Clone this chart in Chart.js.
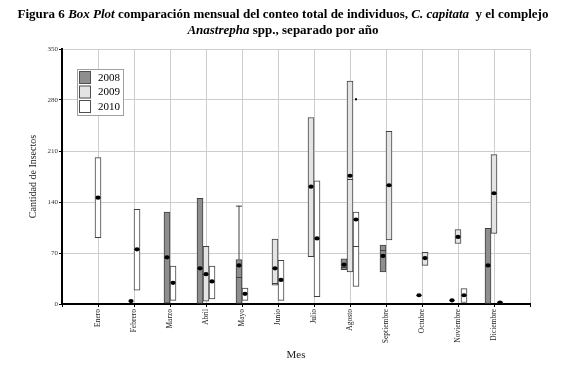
<!DOCTYPE html>
<html>
<head>
<meta charset="utf-8">
<script src="https://cdn.jsdelivr.net/npm/chart.js@4/dist/chart.umd.min.js"></script>
<style>
  html, body { margin: 0; padding: 0; background: #fff; }
  #wrap { position: relative; width: 566px; height: 370px; }
  #chart { position: absolute; left: 0; top: 0; }
  #title {
    position: absolute; top: 6px; left: 0; width: 566px;
    text-align: center; color: #000;
    font: bold 13px "Liberation Serif", "Times New Roman", serif;
    line-height: 16px;
  }
</style>
</head>
<body>
<div id="wrap">
  <canvas id="chart" width="566" height="370"></canvas>
  <div id="title">Figura 6 <i>Box Plot</i> comparación mensual del conteo total de individuos, <i>C. capitata</i>&nbsp; y el complejo<br><i>Anastrepha</i> spp., separado por año</div>
</div>
<script>
const months = ['Enero', 'Febrero', 'Marzo', 'Abril', 'Mayo', 'Junio', 'Julio',
                'Agosto', 'Septiembre', 'Octubre', 'Noviembre', 'Diciembre'];
const years = ['2008', '2009', '2010'];

// box [bottom, top] per month, null = no data that year
const box2008 = [null, [4, 4], [1, 126], [0, 145], [0, 61], null, null, [47, 62], [44, 81], [12, 12], [5, 5], [0, 104]];
const box2009 = [null, null, null, [4, 79], null, [26, 89], [65, 256], [44, 306], [88, 237], [53, 71], [83, 102], [97, 205]];
const box2010 = [[91, 201], [19, 130], [5, 52], [7, 52], [5, 22], [5, 60], [10, 169], [24, 126], null, null, [2, 21], [0, 3]];

// black dot inside each box
const mean2008 = [null, 4, 64, 49, 53, null, null, 54, 66, 12, 5, 53];
const mean2009 = [null, null, null, 41, null, 49, 161, 176, 163, 63, 92, 152];
const mean2010 = [146, 75, 29, 31, 14, 33, 90, 116, null, null, 12, 2];

// thin line across the box
const median2008 = [null, null, null, null, 37, null, null, 51, 74, null, null, null];
const median2009 = [null, null, null, null, null, 29, null, 172, null, null, null, null];
const median2010 = [null, null, null, null, null, null, null, 79, null, null, null, null];

// upper whisker and outliers
const whisker2008 = [null, null, null, null, 135, null, null, null, null, null, null, null];
const outlier2010 = [null, null, null, null, null, null, null, 281, null, null, null, null];

const fills = ['#8e8e8e', '#e4e4e4', '#ffffff'];

// empty slot on each side so the axis runs one month past Enero and Diciembre
const pad = a => [null, ...a, null];

const boxMarks = {
    id: 'boxMarks',
    afterDatasetsDraw(chart) {
        const ctx = chart.ctx;
        const yScale = chart.scales.y;
        ctx.save();
        chart.data.datasets.forEach((ds, di) => {
            const meta = chart.getDatasetMeta(di);
            meta.data.forEach((bar, i) => {
                if (ds.data[i] == null) return;
                const { x, width } = bar.getProps(['x', 'width'], true);
                const half = width / 2;
                if (ds.whiskers[i] != null) {
                    const top = yScale.getPixelForValue(ds.data[i][1]);
                    const w = yScale.getPixelForValue(ds.whiskers[i]);
                    ctx.strokeStyle = '#404040';
                    ctx.lineWidth = 1;
                    ctx.beginPath();
                    ctx.moveTo(x, top);
                    ctx.lineTo(x, w);
                    ctx.moveTo(x - half, w + 0.5);
                    ctx.lineTo(x + half, w + 0.5);
                    ctx.stroke();
                }
                if (ds.medians[i] != null) {
                    const m = Math.round(yScale.getPixelForValue(ds.medians[i])) + 0.5;
                    ctx.strokeStyle = '#404040';
                    ctx.lineWidth = 1;
                    ctx.beginPath();
                    ctx.moveTo(x - half, m);
                    ctx.lineTo(x + half, m);
                    ctx.stroke();
                }
                if (ds.means[i] != null) {
                    ctx.fillStyle = '#000';
                    ctx.beginPath();
                    ctx.ellipse(x, yScale.getPixelForValue(ds.means[i]), 2.6, 2.1, 0, 0, Math.PI * 2);
                    ctx.fill();
                }
                if (ds.outliers[i] != null) {
                    ctx.fillStyle = '#000';
                    ctx.fillRect(x - 1, yScale.getPixelForValue(ds.outliers[i]) - 1, 2, 2);
                }
            });
        });
        ctx.restore();
    },
    afterDraw(chart) {
        // legend box sits inside the plot, top left
        const ctx = chart.ctx;
        const lx = 77, ly = 69, lw = 47, lh = 47;
        ctx.save();
        ctx.fillStyle = '#fff';
        ctx.fillRect(lx, ly, lw, lh);
        ctx.strokeStyle = '#a0a0a0';
        ctx.lineWidth = 1;
        ctx.strokeRect(lx + 0.5, ly + 0.5, lw - 1, lh - 1);
        ctx.font = '11px "Liberation Serif", serif';
        ctx.textBaseline = 'middle';
        chart.data.datasets.forEach((ds, i) => {
            const ry = ly + 2 + i * 14.5;
            ctx.fillStyle = ds.backgroundColor;
            ctx.fillRect(lx + 2, ry, 12, 13);
            ctx.strokeStyle = '#505050';
            ctx.strokeRect(lx + 2.5, ry + 0.5, 11, 12);
            ctx.fillStyle = '#000';
            ctx.fillText(ds.label, lx + 21, ry + 7);
        });
        ctx.restore();
    }
};

const datasets = [
    { label: years[0], data: pad(box2008), backgroundColor: fills[0], means: pad(mean2008), medians: pad(median2008), whiskers: pad(whisker2008), outliers: pad(Array(12).fill(null)) },
    { label: years[1], data: pad(box2009), backgroundColor: fills[1], means: pad(mean2009), medians: pad(median2009), whiskers: pad(Array(12).fill(null)), outliers: pad(Array(12).fill(null)) },
    { label: years[2], data: pad(box2010), backgroundColor: fills[2], means: pad(mean2010), medians: pad(median2010), whiskers: pad(Array(12).fill(null)), outliers: pad(outlier2010) }
].map(d => Object.assign(d, {
    borderColor: '#404040',
    borderWidth: 1,
    borderSkipped: false,
    barThickness: 6,
    skipNull: true
}));

const serif = '"Liberation Serif", "Times New Roman", serif';

new Chart(document.getElementById('chart'), {
    type: 'bar',
    data: {
        labels: ['', ...months, ''],
        datasets: datasets
    },
    options: {
        responsive: false,
        animation: false,
        layout: { padding: { top: 49, right: 36, bottom: 0, left: 0 } },
        plugins: {
            legend: { display: false },
            tooltip: { enabled: false }
        },
        scales: {
            x: {
                offset: false,
                grid: { color: '#cdcdcd', offset: false, tickColor: '#000', tickLength: 3 },
                border: { color: '#000', width: 2 },
                ticks: {
                    autoSkip: false,
                    maxRotation: 90,
                    minRotation: 90,
                    padding: 2,
                    color: '#222',
                    font: { family: serif, size: 7.5 }
                },
                title: {
                    display: true,
                    text: 'Mes',
                    color: '#222',
                    font: { family: serif, size: 11 },
                    padding: { top: 0, bottom: 8 }
                },
                afterFit(scale) { scale.height = 66; }
            },
            y: {
                min: 0,
                max: 350,
                grid: { color: '#cdcdcd', tickColor: '#000', tickLength: 3 },
                border: { color: '#000', width: 2 },
                ticks: {
                    stepSize: 70,
                    padding: 1,
                    color: '#333',
                    font: { family: serif, size: 7 }
                },
                title: {
                    display: true,
                    text: 'Cantidad de Insectos',
                    color: '#222',
                    font: { family: serif, size: 10 },
                    padding: { top: 27, bottom: 0 }
                },
                afterFit(scale) { scale.width = 62; }
            }
        }
    },
    plugins: [boxMarks]
});
</script>
</body>
</html>
